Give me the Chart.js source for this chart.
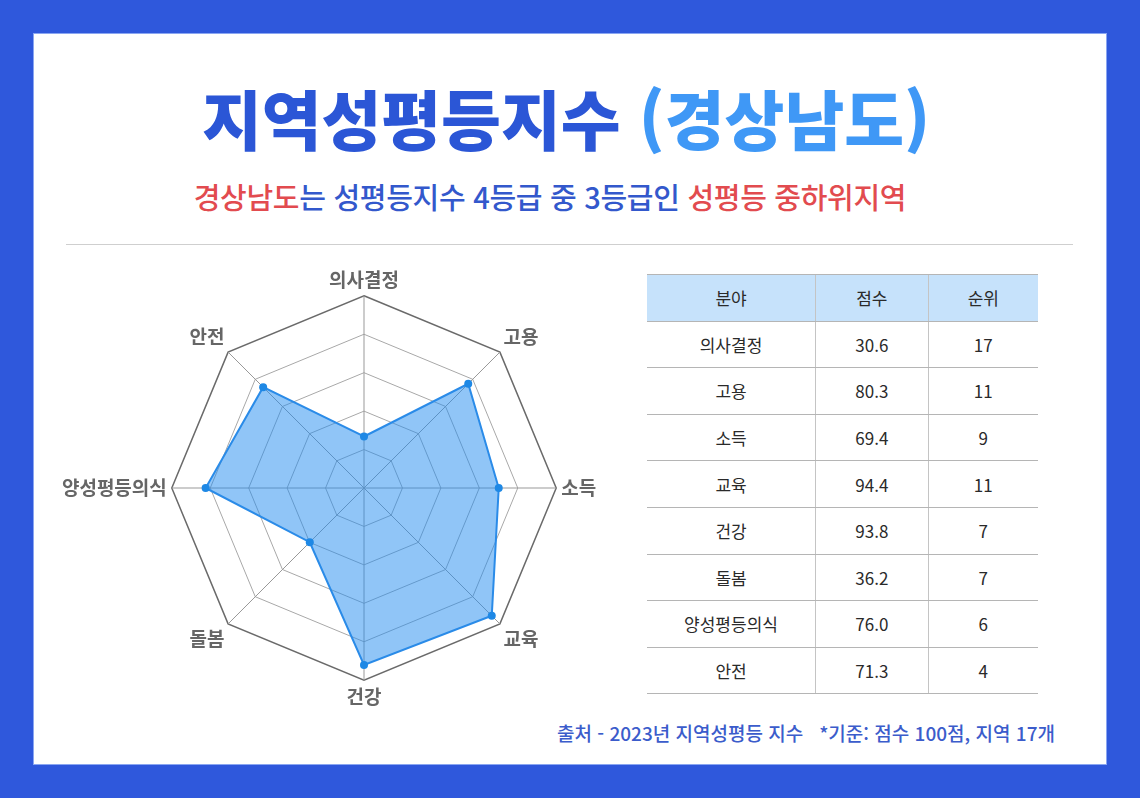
<!DOCTYPE html>
<html lang="ko">
<head>
<meta charset="utf-8">
<script src="https://cdn.jsdelivr.net/npm/chart.js@4.4.1/dist/chart.umd.min.js"></script>
<style>
  html, body { margin:0; padding:0; }
  body { width:1140px; height:798px; background:#2f58dc; position:relative; overflow:hidden;
         font-family:"Noto Sans CJK KR","Noto Sans",sans-serif; }
  #card { position:absolute; left:34px; top:34px; width:1072px; height:730px; background:#fff;
          box-shadow:0 0 0 1px #8aa6f2; }
  #title { position:absolute; left:0; top:71px; width:1140px; text-align:center; font-size:65px;
           font-weight:900; line-height:92px; color:#2b56d6; letter-spacing:0px; transform:translateX(-4px); }
  #title .light { color:#3f98f6; }
  #subtitle { position:absolute; left:0; top:177px; width:1140px; text-align:center; font-size:29px;
              font-weight:500; line-height:38px; color:#3358cc; transform:translateX(-20px); letter-spacing:-0.3px; }
  #subtitle .red { color:#e24b4f; }
  #divider { position:absolute; left:66px; top:244px; width:1007px; height:1px; background:#cfcfcf; }
  #radarWrap { position:absolute; left:0px; top:269px; width:728px; height:440px; z-index:1; }
  #tbl { position:absolute; left:647px; top:274px; width:391px; border-collapse:collapse; z-index:2;
         font-size:17px; color:#2a2a2a; background:#fff; }
  #tbl th, #tbl td { text-align:center; padding:0; font-weight:400; }
  #tbl th { background:#c6e2fb; height:45.6px; border-top:1px solid #b5b5b5; border-bottom:1px solid #b5b5b5; }
  #tbl td { height:45.6px; border-bottom:1px solid #b5b5b5; }
  #tbl th + th, #tbl td + td { border-left:1px solid #c4c4c4; }
  #footer { position:absolute; right:85px; top:718px; font-size:19px; font-weight:500; color:#3b5ccb;
            line-height:30px; white-space:pre; }
</style>
</head>
<body>
<div id="card"></div>
<div id="title">지역성평등지수 <span class="light">(경상남도)</span></div>
<div id="subtitle"><span class="red">경상남도</span>는 성평등지수 4등급 중 3등급인 <span class="red">성평등 중하위지역</span></div>
<div id="divider"></div>
<div id="radarWrap"><canvas id="radar" width="728" height="440" style="width:728px;height:440px"></canvas></div>
<table id="tbl"><thead><tr id="headRow"></tr></thead><tbody id="tbody"></tbody></table>
<div id="footer">출처 - 2023년 지역성평등 지수   *기준: 점수 100점, 지역 17개</div>
<script>
// ---- data ----
const categories = ['의사결정', '고용', '소득', '교육', '건강', '돌봄', '양성평등의식', '안전'];
const radarValues = [26.8, 76.7, 70.1, 94.0, 92.1, 39.9, 82.4, 74.2];   // as plotted in the radar
const tableScores = ['30.6', '80.3', '69.4', '94.4', '93.8', '36.2', '76.0', '71.3'];
const tableRanks = [17, 11, 9, 11, 7, 7, 6, 4];
const tableHeaders = ['분야', '점수', '순위'];
const radialTicks = [0, 20, 40, 60, 80, 100];

// ---- table ----
const headRow = document.getElementById('headRow');
const colW = [169, 112, 110];
tableHeaders.forEach((h, i) => {
  const th = document.createElement('th');
  th.textContent = h; th.style.width = colW[i] + 'px';
  headRow.appendChild(th);
});
const tbody = document.getElementById('tbody');
categories.forEach((c, i) => {
  const tr = document.createElement('tr');
  [c, tableScores[i], tableRanks[i]].forEach(v => {
    const td = document.createElement('td'); td.textContent = v; tr.appendChild(td);
  });
  tbody.appendChild(tr);
});

// ---- radar ----
new Chart(document.getElementById('radar'), {
  type: 'radar',
  data: {
    labels: categories,
    datasets: [{
      data: radarValues,
      backgroundColor: 'rgba(33,140,240,0.5)',
      borderColor: '#2a8be8',
      borderWidth: 2,
      pointRadius: 4,
      pointBackgroundColor: '#1e88e5',
      pointBorderWidth: 0,
      fill: true
    }]
  },
  options: {
    responsive: false,
    animation: false,
    devicePixelRatio: 1,
    layout: { padding: 0 },
    plugins: { legend: { display: false }, tooltip: { enabled: false } },
    scales: {
      r: {
        min: radialTicks[0],
        max: radialTicks[radialTicks.length - 1],
        ticks: { display: false, stepSize: radialTicks[1] - radialTicks[0] },
        grid: {
          color: ctx => ctx.index === radialTicks.length - 1 ? '#6a6a6a' : '#a8a8a8',
          lineWidth: ctx => ctx.index === radialTicks.length - 1 ? 1.5 : 1
        },
        angleLines: { color: '#999', lineWidth: 1 },
        pointLabels: {
          padding: 5,
          color: '#666',
          font: { family: '"Noto Sans CJK KR", sans-serif', size: 19, weight: 'bold' }
        }
      }
    }
  }
});
</script>
</body>
</html>
